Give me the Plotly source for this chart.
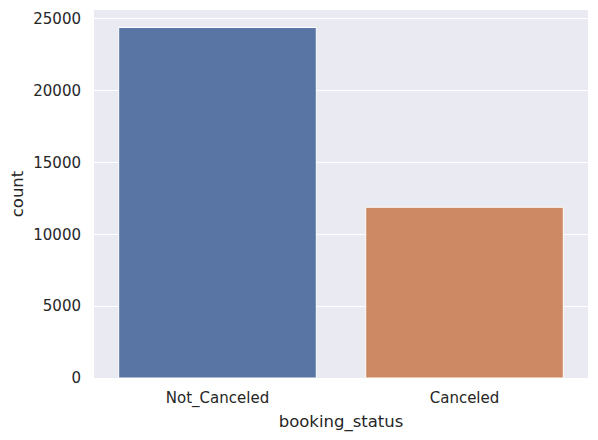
import plotly.graph_objects as go

categories = ["Not_Canceled", "Canceled"]
counts = [24390, 11885]
colors = ["#5975a4", "#cc8963"]
y_ticks = [0, 5000, 10000, 15000, 20000, 25000]

fig = go.Figure()
fig.add_trace(go.Bar(
    x=list(range(len(categories))),
    y=counts,
    width=0.8,
    marker=dict(color=colors, line=dict(color="white", width=1)),
    showlegend=False,
    hoverinfo="skip",
))

# the page body adds an 8px offset; compensate in size and margins
fig.update_layout(
    width=590, height=432,
    margin=dict(l=86, r=10, t=2, b=62),
    paper_bgcolor="white",
    plot_bgcolor="#eaeaf2",
    font=dict(family="DejaVu Sans", size=15, color="#262626"),
    xaxis=dict(
        range=[-0.5, 1.5],
        tickmode="array",
        tickvals=list(range(len(categories))),
        ticktext=categories,
        showgrid=False,
        zeroline=False,
        ticks="",
        automargin=False,
        ticklabelstandoff=9,
        title=dict(text="booking_status", standoff=8, font=dict(size=16.5)),
    ),
    yaxis=dict(
        range=[0, max(counts) * 1.05],
        tickmode="array",
        tickvals=y_ticks,
        ticktext=[str(v) for v in y_ticks],
        showgrid=True,
        gridcolor="white",
        gridwidth=1,
        zeroline=False,
        ticks="",
        automargin=False,
        ticklabelstandoff=12,
        title=dict(text="count", standoff=11, font=dict(size=16.5)),
    ),
)

fig.write_html("out.html")
